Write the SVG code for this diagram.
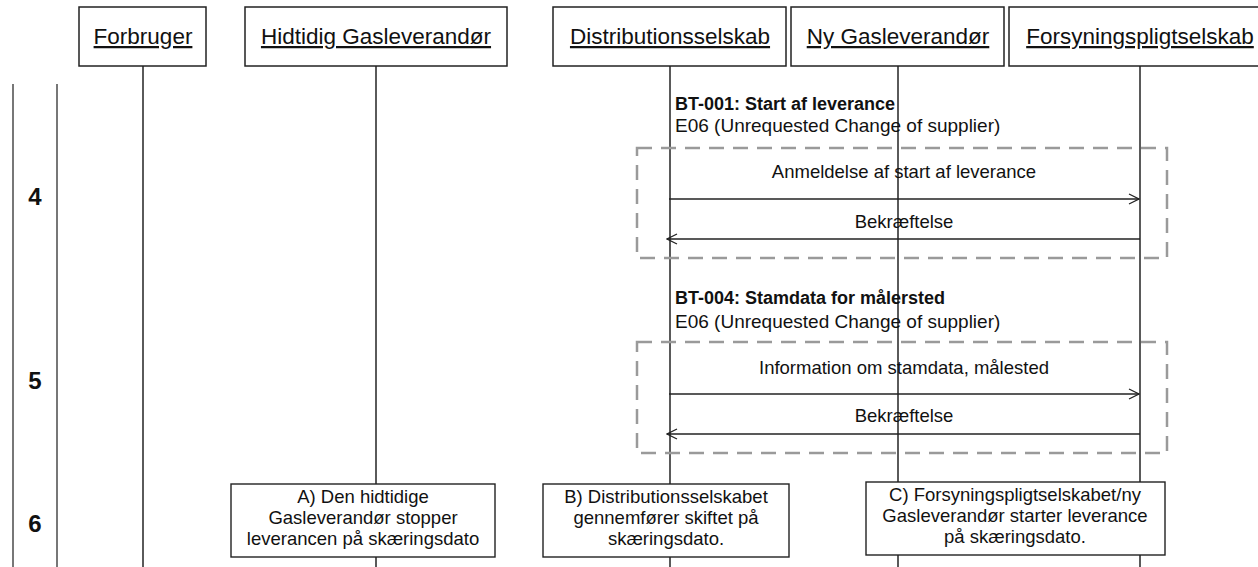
<svg xmlns="http://www.w3.org/2000/svg" width="1258" height="567" viewBox="0 0 1258 567">
<defs>
<style>
text{font-family:"Liberation Sans",Arial,sans-serif;fill:#111}
.hdr{font-size:22.5px;text-anchor:middle;text-decoration:underline}
.hbox{fill:#fff;stroke:#222;stroke-width:1.5}
.life{stroke:#5a5a5a;stroke-width:2;fill:none}
.side{stroke:#555;stroke-width:1.6}
.num{font-size:24px;font-weight:bold;text-anchor:middle}
.lbl{font-size:18.5px;text-anchor:middle}
.ttl{font-size:18px;font-weight:bold}
.sub{font-size:19px}
.frag{fill:none;stroke:#9a9a9a;stroke-width:2.5;stroke-dasharray:15 9}
.msg{stroke:#222;stroke-width:1.3;fill:none}
.note{fill:#fff;stroke:#222;stroke-width:1.4}
.nt{font-size:18.5px;text-anchor:middle}
</style>
<marker id="open" viewBox="0 0 12 12" refX="11" refY="6" markerWidth="12" markerHeight="12" markerUnits="userSpaceOnUse" orient="auto">
<path d="M1,1 L11,6 L1,11" fill="none" stroke="#222" stroke-width="1.3"/>
</marker>
</defs>
<rect width="1258" height="567" fill="#fff"/>
<g id="phase-lines">
<line class="side" x1="13" y1="84" x2="13" y2="567"/>
<line class="side" x1="57" y1="84" x2="57" y2="567"/>
<text class="num" x="35" y="205">4</text>
<text class="num" x="35" y="389">5</text>
<text class="num" x="35" y="532">6</text>
</g>
<g id="lifelines">
<line class="life" x1="143" y1="66" x2="143" y2="567"/>
<line class="life" x1="376" y1="66" x2="376" y2="567"/>
<line class="life" x1="670" y1="66" x2="670" y2="567"/>
<line class="life" x1="898" y1="66" x2="898" y2="567"/>
<line class="life" x1="1140" y1="66" x2="1140" y2="567"/>
</g>
<g id="forbruger"><rect class="hbox" x="79" y="7" width="127" height="59"/><text class="hdr" x="143" y="44">Forbruger</text></g>
<g id="hidtidig"><rect class="hbox" x="245" y="7" width="262" height="59"/><text class="hdr" x="376" y="44">Hidtidig Gasleverandør</text></g>
<g id="distribution"><rect class="hbox" x="553" y="7" width="233" height="59"/><text class="hdr" x="670" y="44">Distributionsselskab</text></g>
<g id="ny"><rect class="hbox" x="791" y="7" width="213" height="59"/><text class="hdr" x="898" y="44">Ny Gasleverandør</text></g>
<g id="forsyning"><rect class="hbox" x="1009" y="7" width="262" height="59"/><text class="hdr" x="1140" y="44">Forsyningspligtselskab</text></g>
<g id="bt001">
<text class="ttl" x="675" y="110">BT-001: Start af leverance</text>
<text class="sub" x="675" y="132">E06 (Unrequested Change of supplier)</text>
<rect class="frag" x="637" y="148" width="530" height="110"/>
</g>
<g id="bt004">
<text class="ttl" x="675" y="304">BT-004: Stamdata for målersted</text>
<text class="sub" x="675" y="328">E06 (Unrequested Change of supplier)</text>
<rect class="frag" x="637" y="342" width="530" height="111"/>
</g>
<g id="connectors">
<line class="msg" x1="669" y1="199" x2="1139" y2="199" marker-end="url(#open)"/>
<text class="lbl" x="904" y="178">Anmeldelse af start af leverance</text>
<line class="msg" x1="1140" y1="239" x2="667" y2="239" marker-end="url(#open)"/>
<text class="lbl" x="904" y="228">Bekræftelse</text>
<line class="msg" x1="669" y1="394" x2="1139" y2="394" marker-end="url(#open)"/>
<text class="lbl" x="904" y="374">Information om stamdata, målested</text>
<line class="msg" x1="1140" y1="434" x2="667" y2="434" marker-end="url(#open)"/>
<text class="lbl" x="904" y="422">Bekræftelse</text>
</g>
<g id="note-a"><rect class="note" x="231" y="484" width="264" height="73"/>
<text class="nt" x="363" y="503">A) Den hidtidige</text>
<text class="nt" x="363" y="524">Gasleverandør stopper</text>
<text class="nt" x="363" y="545">leverancen på skæringsdato</text></g>
<g id="note-b"><rect class="note" x="543" y="484" width="246" height="73"/>
<text class="nt" x="666" y="503">B) Distributionsselskabet</text>
<text class="nt" x="666" y="524">gennemfører skiftet på</text>
<text class="nt" x="666" y="545">skæringsdato.</text></g>
<g id="note-c"><rect class="note" x="866" y="482" width="299" height="73"/>
<text class="nt" x="1015" y="501">C) Forsyningspligtselskabet/ny</text>
<text class="nt" x="1015" y="522">Gasleverandør starter leverance</text>
<text class="nt" x="1015" y="543">på skæringsdato.</text></g>
</svg>
